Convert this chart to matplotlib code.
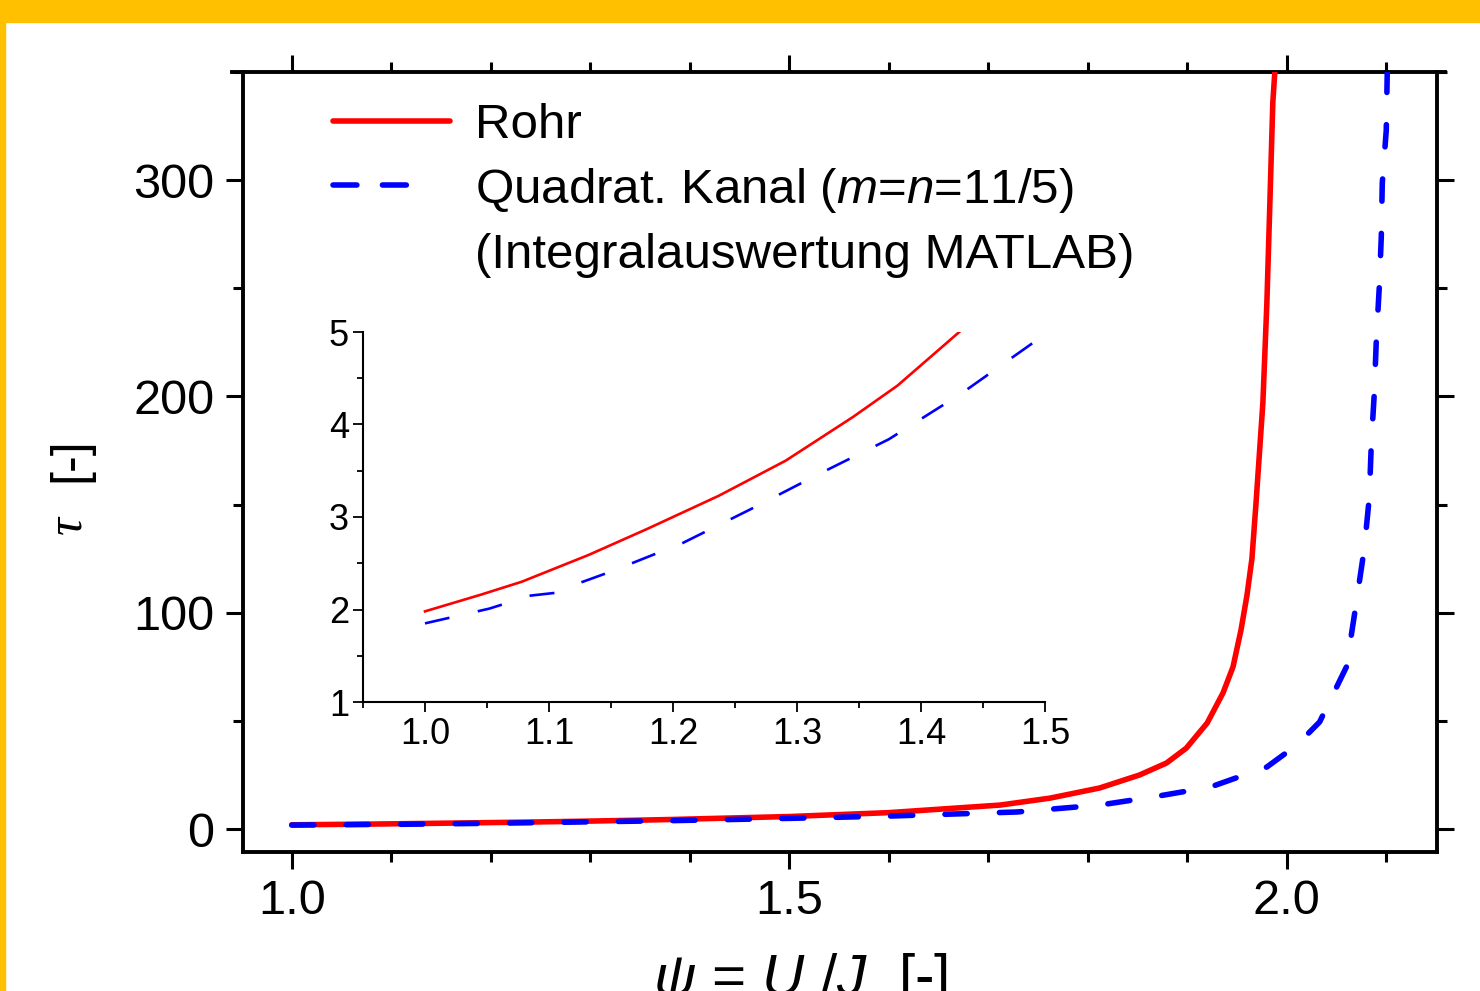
import matplotlib
matplotlib.use("Agg")
import matplotlib.pyplot as plt
from matplotlib.lines import Line2D
from matplotlib.patches import Rectangle
from matplotlib.ticker import MultipleLocator, FormatStrFormatter

plt.rcParams['font.family'] = ['Liberation Sans', 'DejaVu Sans']
plt.rcParams['mathtext.fontset'] = 'custom'
plt.rcParams['mathtext.rm'] = 'Liberation Sans'
plt.rcParams['mathtext.it'] = 'Liberation Sans:italic'

# ---- data ----
psi_rohr = [1.0, 1.045, 1.078, 1.132, 1.179, 1.237, 1.291, 1.345, 1.381, 1.430,
            1.5, 1.6, 1.712, 1.762, 1.812, 1.852, 1.879, 1.899, 1.920, 1.936,
            1.946, 1.954, 1.960, 1.965, 1.969, 1.976, 1.980, 1.983, 1.986, 1.988]
tau_rohr = [1.98, 2.16, 2.30, 2.59, 2.87, 3.23, 3.61, 4.08, 4.42, 4.99,
            5.8, 7.6, 11.1, 14.3, 19.0, 25, 30.5, 37.4, 49, 63,
            75, 92, 108, 125, 150, 197, 243, 289, 336, 350]

psi_quad = [1.0, 1.052, 1.085, 1.105, 1.117, 1.150, 1.208, 1.262, 1.320, 1.374,
            1.432, 1.490, 1.5, 1.6, 1.729, 1.812, 1.865, 1.923, 1.980, 2.010,
            2.033, 2.060, 2.070, 2.078, 2.083, 2.085, 2.088, 2.090, 2.093, 2.095,
            2.096, 2.100, 2.101]
tau_quad = [1.85, 2.01, 2.15, 2.18, 2.25, 2.41, 2.72, 3.08, 3.48, 3.84,
            4.33, 4.88, 4.95, 6.0, 7.9, 11.1, 14.8, 19.4, 28.7, 38.8,
            49.5, 75, 105, 130, 153.5, 178.5, 201.6, 226, 250.6, 273.7,
            298.6, 323, 350]

label_rohr = "Rohr"
label_quad = "Quadrat. Kanal ($m$=$n$=11/5)"
label_quad2 = "(Integralauswertung MATLAB)"
xlabel = r"$\psi$ = $U$ /$J$  [-]"
ylabel_sym = "\u03c4"
ylabel_unit = "[-]"

W, H = 1480, 991
fig = plt.figure(figsize=(W / 100, H / 100), dpi=100, facecolor='white')

# orange frame
orange = '#FFC000'
fig.add_artist(Rectangle((0, 1 - 22 / H), 1, 22 / H, transform=fig.transFigure,
                         color=orange, zorder=0))
fig.add_artist(Rectangle((0, 0), 5 / W, 1, transform=fig.transFigure,
                         color=orange, zorder=0))

# ---- main axes ----
ax = fig.add_axes([243 / W, 1 - 852 / H, (1437 - 243) / W, (852 - 72) / H])
ax.plot(psi_rohr, tau_rohr, color='#FF0000', lw=4.0, solid_capstyle='round',
        solid_joinstyle='round', zorder=3)
ax.plot(psi_quad, tau_quad, color='#0000FF', lw=4.0, dashes=(4, 5.8),
        dash_capstyle='round', dash_joinstyle='round', zorder=4)
ax.set_xlim(0.951, 2.151)
ax.set_ylim(-10.6, 350)
ax.xaxis.set_major_locator(MultipleLocator(0.5))
ax.xaxis.set_minor_locator(MultipleLocator(0.1))
ax.yaxis.set_major_locator(MultipleLocator(100))
ax.yaxis.set_minor_locator(MultipleLocator(50))
ax.xaxis.set_major_formatter(FormatStrFormatter('%.1f'))
for sp in ax.spines.values():
    sp.set_linewidth(2.8)
ax.spines['top'].set_bounds(0.940, 2.159)
ax.tick_params(which='both', direction='out', top=True, right=True,
               labeltop=False, labelright=False, width=2.2, labelsize=35)
ax.tick_params(which='major', length=12.5)
ax.tick_params(which='minor', length=7)
ax.tick_params(axis='x', pad=7)
ax.tick_params(axis='y', pad=8)

handles = [Line2D([], [], color='#FF0000', lw=4.0, solid_capstyle='round'),
           Line2D([], [], color='#0000FF', lw=4.0, dashes=(4.3, 4.6, 4.3, 30),
                  dash_capstyle='round'),
           Line2D([], [], color='none', lw=0)]
ax.legend(handles, [label_rohr, label_quad, label_quad2], loc='upper left',
          bbox_to_anchor=((333 - 243) / (1437 - 243), 1 - (103 - 72) / (852 - 72)),
          frameon=False, fontsize=35.5, handlelength=2.37, handletextpad=0.5,
          labelspacing=0.36, borderpad=0, borderaxespad=0)

fig.text(70 / W, 1 - 460 / H, ylabel_unit, rotation=90, ha='center', va='center',
         fontsize=36)
fig.text(68 / W, 1 - 525 / H, ylabel_sym, rotation=90, ha='center', va='center',
         fontsize=36, family='Liberation Serif', style='italic')
fig.text(800 / W, 1 - 995 / H, xlabel, ha='center', va='baseline', fontsize=42)

# ---- inset ----
axi = fig.add_axes([363 / W, 1 - 702 / H, (1045 - 363) / W, (702 - 332) / H])
axi.patch.set_alpha(0)
axi.plot(psi_rohr, tau_rohr, color='#FF0000', lw=1.9, solid_joinstyle='round')
axi.plot(psi_quad, tau_quad, color='#0000FF', lw=1.9, dashes=(9.5, 11))
axi.set_xlim(0.95, 1.5)
axi.set_ylim(1, 5)
axi.xaxis.set_major_locator(MultipleLocator(0.1))
axi.xaxis.set_minor_locator(MultipleLocator(0.05))
axi.yaxis.set_major_locator(MultipleLocator(1))
axi.yaxis.set_minor_locator(MultipleLocator(0.5))
axi.xaxis.set_major_formatter(FormatStrFormatter('%.1f'))
axi.spines['top'].set_visible(False)
axi.spines['right'].set_visible(False)
for s in ('left', 'bottom'):
    axi.spines[s].set_linewidth(1.5)
axi.tick_params(which='both', direction='out', width=1.3, labelsize=26)
axi.tick_params(which='major', length=7)
axi.tick_params(which='minor', length=4)
axi.tick_params(axis='x', pad=4)
axi.tick_params(axis='y', pad=3)

fig.savefig('out.png', dpi=100, facecolor='white')
